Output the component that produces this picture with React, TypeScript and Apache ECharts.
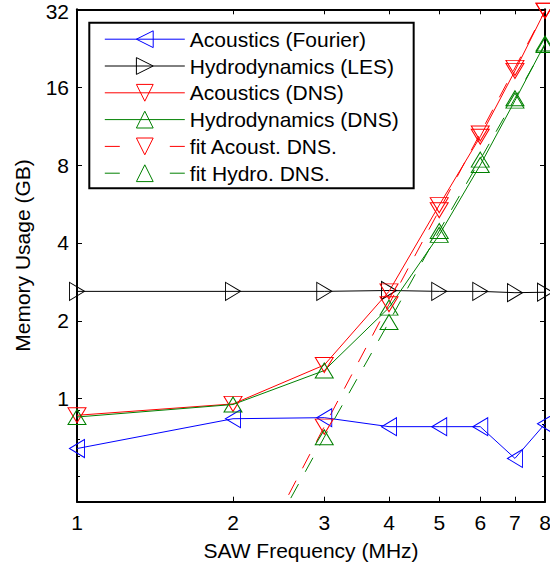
import React, { useEffect, useRef } from 'react';
import * as echarts from 'echarts';

// ---- data ----
const freqs = [1, 2, 3, 4, 5, 6, 7, 8];
const fitFreqs = [2, 3, 4, 5, 6, 7, 8];
const xTickLabels = [1, 2, 3, 4, 5, 6, 7, 8];
const yTickLabels = [1, 2, 4, 8, 16, 32];
const yMinorTicks = [0.5, 0.6, 0.7, 0.8, 0.9];

const acousticsFourier = [0.642, 0.837, 0.845, 0.78, 0.78, 0.78, 0.588, 0.8];
const hydroLES = [2.6, 2.6, 2.6, 2.62, 2.6, 2.6, 2.57, 2.58];
const acousticsDNS = [0.863, 0.955, 1.35, 2.6, 5.6, 10.3, 18.5, 31.6];
const hydroDNS = [0.85, 0.95, 1.285, 2.25, 4.3, 8.0, 14.2, 23.6];
const fitAcoustDNS = [0.165, 0.78, 2.32, 5.35, 10.6, 19.0, 31.6];
const fitHydroDNS = [0.162, 0.71, 1.98, 4.45, 8.4, 14.5, 23.3];

const seriesNames = [
  'Acoustics (Fourier)',
  'Hydrodynamics (LES)',
  'Acoustics (DNS)',
  'Hydrodynamics (DNS)',
  'fit Acoust. DNS.',
  'fit Hydro. DNS.',
];

export default function App() {
  const ref = useRef<HTMLDivElement>(null);

  useEffect(() => {
    const chart = echarts.init(ref.current as HTMLDivElement, null, { renderer: 'svg' });
    const font = "'Liberation Sans', Arial, Helvetica, sans-serif";
    const tri = {
      left: 'path://M10,0L0,5L10,10Z',
      right: 'path://M0,0L10,5L0,10Z',
      down: 'path://M0,0L10,0L5,10Z',
      up: 'path://M5,0L10,10L0,10Z',
    };
    const pair = (xs: number[], ys: number[]) => xs.map((x, i) => [x, ys[i]]);
    const mk = (
      name: string,
      data: number[][],
      color: string,
      symbol: string,
      size: number[],
      dashed: boolean
    ) => ({
      name,
      type: 'line',
      data,
      symbol,
      symbolSize: size,
      showAllSymbol: true,
      clip: true,
      lineStyle: { color, width: 1, type: dashed ? [16, 14] : 'solid' },
      itemStyle: { color: 'rgba(0,0,0,0)', borderColor: color, borderWidth: 1 },
      emphasis: { disabled: true },
    });

    const axisLineStyle = { show: true, onZero: false, lineStyle: { color: '#000', width: 2 } };
    const xBase = {
      type: 'log',
      logBase: 2,
      min: 1,
      max: 8,
      splitLine: { show: false },
      minorTick: { show: false },
      axisLine: axisLineStyle,
      axisTick: {
        show: true,
        inside: true,
        length: 5,
        customValues: xTickLabels,
        lineStyle: { color: '#000', width: 1 },
      },
    };
    const yBase = {
      type: 'log',
      logBase: 2,
      min: 0.4,
      max: 32,
      splitLine: { show: false },
      minorTick: { show: false },
    };
    const majorYTick = {
      show: true,
      inside: true,
      length: 5,
      customValues: yTickLabels,
      lineStyle: { color: '#000', width: 1 },
    };
    const minorYTick = {
      show: true,
      inside: true,
      length: 3,
      customValues: yMinorTicks,
      lineStyle: { color: '#000', width: 1 },
    };
    const labelText = { fontSize: 21, fontFamily: font, color: '#000' };
    const topTick = yTickLabels[yTickLabels.length - 1];

    chart.setOption({
      animation: false,
      backgroundColor: '#fff',
      grid: { left: 77, top: 9.3, width: 468, height: 492.4, containLabel: false, outerBoundsMode: 'none' },
      xAxis: [
        {
          ...xBase,
          position: 'bottom',
          axisLabel: {
            ...labelText,
            customValues: xTickLabels,
            margin: 10,
            formatter: (v: number) => String(Math.round(v)),
          },
          name: 'SAW Frequency (MHz)',
          nameLocation: 'middle',
          nameGap: 38,
          nameTextStyle: labelText,
        },
        { ...xBase, position: 'top', axisLabel: { show: false } },
      ],
      yAxis: [
        {
          ...yBase,
          position: 'left',
          axisLine: axisLineStyle,
          axisTick: majorYTick,
          axisLabel: {
            ...labelText,
            lineHeight: 17,
            customValues: yTickLabels,
            margin: 8,
            formatter: (v: number) => {
              const s = String(Math.round(v * 100) / 100);
              return Math.round(v) === topTick ? '{t|' + s + '}' : s;
            },
            rich: {
              t: { ...labelText, lineHeight: 17, padding: [5, 0, 0, 0] },
            },
          },
          name: 'Memory Usage (GB)',
          nameLocation: 'middle',
          nameGap: 44,
          nameTextStyle: labelText,
        },
        { ...yBase, position: 'right', axisLine: axisLineStyle, axisTick: majorYTick, axisLabel: { show: false } },
        { ...yBase, position: 'left', axisLine: { show: false }, axisTick: minorYTick, axisLabel: { show: false } },
        { ...yBase, position: 'right', axisLine: { show: false }, axisTick: minorYTick, axisLabel: { show: false } },
      ],
      legend: {
        left: 89.3,
        top: 22.7,
        orient: 'vertical',
        align: 'left',
        padding: [6, 15, 4.5, 15],
        itemWidth: 80,
        itemHeight: 21,
        itemGap: 5.8,
        borderColor: '#000',
        borderWidth: 2,
        backgroundColor: '#fff',
        selectedMode: false,
        textStyle: { ...labelText, lineHeight: 21 },
        itemStyle: { borderWidth: 1 },
        lineStyle: { width: 1 },
        data: [
          { name: seriesNames[0] },
          { name: seriesNames[1] },
          { name: seriesNames[2] },
          { name: seriesNames[3] },
          { name: seriesNames[4], lineStyle: { width: 1, type: [15, 50] } },
          { name: seriesNames[5], lineStyle: { width: 1, type: [15, 50] } },
        ],
      },
      series: [
        mk(seriesNames[0], pair(freqs, acousticsFourier), '#0000ff', tri.left, [15, 18], false),
        mk(seriesNames[1], pair(freqs, hydroLES), '#000000', tri.right, [15, 18], false),
        mk(seriesNames[2], pair(freqs, acousticsDNS), '#ff0000', tri.down, [18, 15], false),
        mk(seriesNames[3], pair(freqs, hydroDNS), '#008000', tri.up, [18, 15], false),
        mk(seriesNames[4], pair(fitFreqs, fitAcoustDNS), '#ff0000', tri.down, [18, 15], true),
        mk(seriesNames[5], pair(fitFreqs, fitHydroDNS), '#008000', tri.up, [18, 15], true),
      ],
    } as any);

    return () => chart.dispose();
  }, []);

  return (
    <div
      ref={ref}
      style={{ position: 'fixed', left: 0, top: 0, width: 550, height: 567, background: '#fff' }}
    />
  );
}
